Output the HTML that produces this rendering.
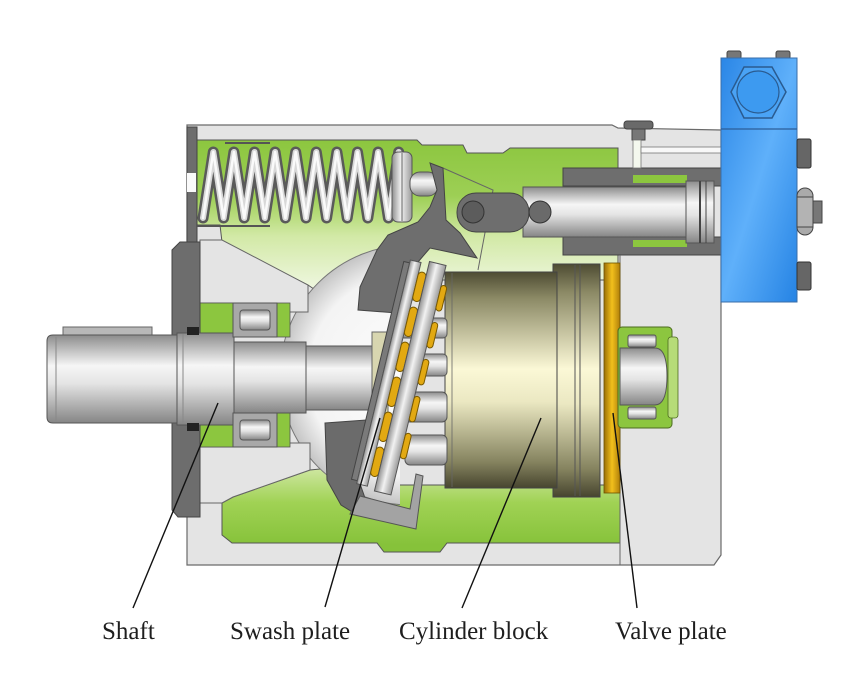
<!DOCTYPE html>
<html><head><meta charset="utf-8"><style>
html,body{margin:0;padding:0;background:#fff;}
svg{display:block;}
text{font-family:"Liberation Serif",serif;font-size:25px;fill:#1e1e1e;}
</style></head><body>
<svg width="847" height="688" viewBox="0 0 847 688" xmlns="http://www.w3.org/2000/svg">
<defs>
<linearGradient id="gUp" x1="0" y1="140" x2="0" y2="300" gradientUnits="userSpaceOnUse">
 <stop offset="0" stop-color="#8cc63f"/><stop offset="0.35" stop-color="#9dcf55"/><stop offset="0.6" stop-color="#d2e9a6"/><stop offset="1" stop-color="#f5faec"/>
</linearGradient>
<linearGradient id="gLow" x1="0" y1="468" x2="0" y2="545" gradientUnits="userSpaceOnUse">
 <stop offset="0" stop-color="#cfe7a2"/><stop offset="0.45" stop-color="#a0d254"/><stop offset="1" stop-color="#86c23a"/>
</linearGradient>
<linearGradient id="gMetal" x1="0" y1="0" x2="0" y2="1">
 <stop offset="0" stop-color="#8c8c8c"/><stop offset="0.35" stop-color="#f6f6f6"/><stop offset="0.55" stop-color="#e4e4e4"/><stop offset="1" stop-color="#858585"/>
</linearGradient>
<linearGradient id="gMetalH" x1="0" y1="0" x2="1" y2="0">
 <stop offset="0" stop-color="#909090"/><stop offset="0.45" stop-color="#f2f2f2"/><stop offset="1" stop-color="#9a9a9a"/>
</linearGradient>
<linearGradient id="gBlock" x1="0" y1="0" x2="0" y2="1">
 <stop offset="0" stop-color="#4e4c33"/><stop offset="0.12" stop-color="#8b8965"/><stop offset="0.45" stop-color="#fbf8d6"/><stop offset="0.6" stop-color="#ebe8c2"/><stop offset="0.88" stop-color="#85835f"/><stop offset="1" stop-color="#47452f"/>
</linearGradient>
<linearGradient id="gGold" x1="0" y1="0" x2="1" y2="0">
 <stop offset="0" stop-color="#9a6e08"/><stop offset="0.5" stop-color="#f2c01c"/><stop offset="1" stop-color="#b07f0a"/>
</linearGradient>
<linearGradient id="gBlue" x1="0" y1="0" x2="1" y2="1">
 <stop offset="0" stop-color="#2a86e6"/><stop offset="0.5" stop-color="#5fb0fa"/><stop offset="1" stop-color="#2583e4"/>
</linearGradient>
<radialGradient id="gDome" cx="410" cy="375" r="130" gradientUnits="userSpaceOnUse">
 <stop offset="0" stop-color="#fdfdfd"/><stop offset="0.78" stop-color="#f4f4f4"/><stop offset="0.9" stop-color="#dadada"/><stop offset="1" stop-color="#c4c4c4"/>
</radialGradient>
<clipPath id="domeClip"><rect x="280" y="235" width="120" height="270"/></clipPath>
</defs>

<!-- housing base -->
<path d="M187,125 L612,125 L618,128 L721,130 L721,555 L714,565 L187,565 Z" fill="#e4e4e4" stroke="#6a6a6a" stroke-width="1.2"/>

<!-- upper cavity -->
<path d="M197,140 L417,140 L422,145 L463,145 L467,153 L503,153 L510,148 L618,148 L618,280 L440,280 L440,300 L330,300 L308,285 L222,242 L220,225 L197,225 Z" fill="url(#gUp)" stroke="#555" stroke-width="1"/>
<!-- lower cavity -->
<path d="M222,503 L233,497 L310,470 L330,468 L330,485 L620,485 L620,543 L447,543 L440,552 L384,552 L377,543 L232,543 L222,535 Z" fill="url(#gLow)" stroke="#555" stroke-width="1"/>

<!-- dome -->
<circle cx="410" cy="375" r="130" fill="url(#gDome)" stroke="#777" stroke-width="1" clip-path="url(#domeClip)"/>

<!-- housing wedges -->
<path d="M200,240 L222,240 L308,285 L308,312 L273,312 L273,303 L200,303 Z" fill="#e4e4e4" stroke="#666" stroke-width="1"/>
<path d="M200,447 L273,447 L273,443 L310,443 L310,470 L233,497 L222,503 L200,503 Z" fill="#e4e4e4" stroke="#666" stroke-width="1"/>
<!-- green bearing areas -->
<rect x="200" y="303" width="90" height="34" fill="#8cc63f" stroke="#555" stroke-width="0.8"/>
<rect x="200" y="413" width="90" height="34" fill="#8cc63f" stroke="#555" stroke-width="0.8"/>

<!-- flange & top cover -->
<path d="M180,242 L200,242 L200,517 L178,517 L172,510 L172,250 Z" fill="#6d6d6d" stroke="#444" stroke-width="1"/>
<rect x="187" y="127" width="10" height="115" fill="#6d6d6d" stroke="#444" stroke-width="1"/>
<rect x="187" y="173" width="9" height="19" fill="#fafafa"/>

<!-- spring chamber -->
<line x1="225" y1="143" x2="270" y2="143" stroke="#555" stroke-width="2"/>
<line x1="197" y1="226" x2="270" y2="226" stroke="#555" stroke-width="2"/>
<polyline points="203,218 213.3,152 223.6,218 233.9,152 244.2,218 254.5,152 264.8,218 275.1,152 285.4,218 295.7,152 306,218 316.3,152 326.6,218 336.9,152 347.2,218 357.5,152 367.8,218 378.1,152 388.4,218 398.7,152" fill="none" stroke="#5a5a5a" stroke-width="11" stroke-linejoin="round" stroke-linecap="round"/>
<polyline points="203,218 213.3,152 223.6,218 233.9,152 244.2,218 254.5,152 264.8,218 275.1,152 285.4,218 295.7,152 306,218 316.3,152 326.6,218 336.9,152 347.2,218 357.5,152 367.8,218 378.1,152 388.4,218 398.7,152" fill="none" stroke="#d8d8d8" stroke-width="6" stroke-linejoin="round" stroke-linecap="round"/>
<polyline points="203,218 213.3,152 223.6,218 233.9,152 244.2,218 254.5,152 264.8,218 275.1,152 285.4,218 295.7,152 306,218 316.3,152 326.6,218 336.9,152 347.2,218 357.5,152 367.8,218 378.1,152 388.4,218 398.7,152" fill="none" stroke="#fafafa" stroke-width="2.5" stroke-linejoin="round" stroke-linecap="round"/>
<rect x="392" y="152" width="20" height="70" rx="6" fill="url(#gMetalH)" stroke="#555"/>
<line x1="402" y1="153" x2="402" y2="221" stroke="#666"/>
<rect x="410" y="172" width="28" height="24" rx="10" fill="url(#gMetal)" stroke="#555"/>

<!-- lever / upper cradle -->
<path d="M443,168 L493,190 L478,270" fill="none" stroke="#666" stroke-width="1"/>
<path d="M430,163 L443,168 L446,220 L460,233 L477,258 L430,248 L418,262 L405,300 L397,313 L358,310 L360,287 L377,250 L388,235 L418,222 L430,207 L437,190 Z" fill="#6e6e6e" stroke="#444" stroke-width="1"/>

<!-- control cylinder -->
<rect x="563" y="168" width="158" height="18" fill="#6e6e6e" stroke="#444"/>
<rect x="563" y="237" width="158" height="18" fill="#6e6e6e" stroke="#444"/>
<rect x="633" y="175" width="54" height="8" fill="#8cc63f"/>
<rect x="633" y="240" width="54" height="7" fill="#8cc63f"/>
<rect x="523" y="187" width="165" height="50" fill="url(#gMetal)" stroke="#555"/>
<rect x="686" y="181" width="28" height="62" fill="url(#gMetal)" stroke="#555"/>
<line x1="700" y1="181" x2="700" y2="243" stroke="#444" stroke-width="2"/>
<line x1="706" y1="181" x2="706" y2="243" stroke="#444" stroke-width="1"/>
<rect x="457" y="193" width="72" height="39" rx="19" fill="#6e6e6e" stroke="#444"/>
<circle cx="473" cy="212" r="11" fill="#5c5c5c" stroke="#333"/>
<circle cx="540" cy="212" r="11" fill="#6a6a6a" stroke="#333"/>
<!-- top bolt & passage -->
<rect x="624" y="121" width="29" height="8" rx="3" fill="#6a6a6a" stroke="#444"/>
<rect x="632" y="129" width="13" height="11" fill="#777" stroke="#444"/>
<rect x="633" y="140" width="8" height="28" fill="#f4f8ee" stroke="#777" stroke-width="0.8"/>
<rect x="641" y="147" width="80" height="6" fill="#f8f8f8" stroke="#777" stroke-width="0.8"/>

<!-- blue block -->
<rect x="727" y="51" width="14" height="8" rx="2" fill="#777" stroke="#444"/>
<rect x="776" y="51" width="14" height="8" rx="2" fill="#777" stroke="#444"/>
<rect x="721" y="58" width="76" height="244" fill="url(#gBlue)" stroke="#3a6ea8" stroke-width="1"/>
<line x1="721" y1="129" x2="797" y2="129" stroke="#2c5e99" stroke-width="1.2"/>
<polygon points="731,92 744,67 772,67 786,92 772,118 744,118" fill="#4aa3f5" stroke="#2a5b90" stroke-width="1.5"/>
<circle cx="758" cy="92" r="21" fill="#3d9af0" stroke="#2a5b90" stroke-width="1.2"/>
<rect x="797" y="139" width="14" height="29" rx="2" fill="#666" stroke="#333"/>
<rect x="797" y="262" width="14" height="28" rx="2" fill="#666" stroke="#333"/>
<circle cx="805" cy="196" r="8" fill="#aaa" stroke="#444"/>
<circle cx="805" cy="227" r="8" fill="#aaa" stroke="#444"/>
<rect x="797" y="197" width="16" height="30" fill="#b3b3b3" stroke="#444"/>
<rect x="813" y="201" width="9" height="22" fill="#777" stroke="#444"/>

<!-- right end housing divider -->
<line x1="620" y1="255" x2="620" y2="565" stroke="#666" stroke-width="1"/>

<!-- cylinder block -->
<rect x="553" y="264" width="47" height="233" fill="url(#gBlock)" stroke="#444"/>
<rect x="445" y="272" width="112" height="216" fill="url(#gBlock)" stroke="#444"/>
<line x1="575" y1="265" x2="575" y2="496" stroke="#555"/>
<line x1="580" y1="265" x2="580" y2="496" stroke="#555"/>
<line x1="452" y1="273" x2="452" y2="487" stroke="#666" stroke-width="0.8"/>
<!-- valve plate -->
<rect x="604" y="263" width="16" height="230" fill="url(#gGold)" stroke="#6b5000" stroke-width="0.8"/>
<!-- right bearing & shaft end -->
<rect x="618" y="327" width="54" height="101" rx="4" fill="#8cc63f" stroke="#4d6b20"/>
<rect x="668" y="337" width="10" height="81" rx="3" fill="#b6dc78" stroke="#4d6b20" stroke-width="0.8"/>
<path d="M620,348 L655,348 Q667,348 667,376 Q667,405 655,405 L620,405 Z" fill="url(#gMetal)" stroke="#555"/>
<rect x="628" y="335" width="28" height="12" rx="2" fill="url(#gMetal)" stroke="#555"/>
<rect x="628" y="407" width="28" height="12" rx="2" fill="url(#gMetal)" stroke="#555"/>

<!-- pistons -->
<rect x="400" y="318" width="47" height="20" rx="4" fill="url(#gMetal)" stroke="#555"/>
<rect x="403" y="354" width="44" height="22" rx="4" fill="url(#gMetal)" stroke="#555"/>
<rect x="405" y="392" width="42" height="30" rx="5" fill="url(#gMetal)" stroke="#555"/>
<rect x="405" y="435" width="42" height="30" rx="5" fill="url(#gMetal)" stroke="#555"/>

<!-- shaft -->
<rect x="63" y="327" width="89" height="9" fill="#b8b8b8" stroke="#666"/>
<path d="M53,335 L177,335 L177,423 L53,423 Q47,423 47,417 L47,341 Q47,335 53,335 Z" fill="url(#gMetal)" stroke="#555"/>
<line x1="56" y1="337" x2="56" y2="421" stroke="#888"/>
<rect x="177" y="333" width="57" height="92" fill="url(#gMetal)" stroke="#555"/>
<line x1="183" y1="334" x2="183" y2="424" stroke="#888"/>
<rect x="234" y="342" width="72" height="71" fill="url(#gMetal)" stroke="#555"/>
<rect x="306" y="346" width="80" height="64" fill="url(#gMetal)" stroke="#555"/>
<rect x="372" y="332" width="16" height="82" fill="#d8d6b0" stroke="#666"/>
<!-- seals -->
<rect x="187" y="327" width="12" height="8" fill="#222"/>
<rect x="187" y="423" width="12" height="8" fill="#222"/>
<!-- shaft bearings -->
<rect x="233" y="303" width="44" height="34" fill="#a8a8a8" stroke="#555"/>
<rect x="240" y="310" width="30" height="20" rx="3" fill="url(#gMetal)" stroke="#555"/>
<rect x="233" y="413" width="44" height="34" fill="#a8a8a8" stroke="#555"/>
<rect x="240" y="420" width="30" height="20" rx="3" fill="url(#gMetal)" stroke="#555"/>

<!-- lower cradle -->
<path d="M325,423 L366,420 L358,478 L365,498 L354,513 L341,505 L327,480 Z" fill="#6b6b6b" stroke="#444"/>
<path d="M360,496 L410,509 L416,474 L423,476 L416,529 L350,514 Z" fill="#a3a3a3" stroke="#555"/>

<!-- swash plate disc -->
<g transform="translate(401,376) rotate(13.5)">
 <rect x="-24" y="-112" width="6" height="224" fill="#7a7a7a" stroke="#444"/>
 <rect x="-18" y="-115" width="11" height="230" fill="url(#gMetalH)" stroke="#555"/>
 <rect x="-7" y="-106" width="8" height="30" rx="4" fill="#e2a912" stroke="#7a5a00"/>
 <rect x="-7" y="-70" width="8" height="30" rx="4" fill="#e2a912" stroke="#7a5a00"/>
 <rect x="-7" y="-34" width="8" height="30" rx="4" fill="#e2a912" stroke="#7a5a00"/>
 <rect x="-7" y="2" width="8" height="30" rx="4" fill="#e2a912" stroke="#7a5a00"/>
 <rect x="-7" y="38" width="8" height="30" rx="4" fill="#e2a912" stroke="#7a5a00"/>
 <rect x="-7" y="74" width="8" height="30" rx="4" fill="#e2a912" stroke="#7a5a00"/>
 <rect x="1" y="-118" width="17" height="236" fill="url(#gMetalH)" stroke="#555"/>
 <rect x="18" y="-98" width="6" height="26" rx="3" fill="#e2a912" stroke="#7a5a00"/>
 <rect x="18" y="-60" width="6" height="26" rx="3" fill="#e2a912" stroke="#7a5a00"/>
 <rect x="18" y="-22" width="6" height="26" rx="3" fill="#e2a912" stroke="#7a5a00"/>
 <rect x="18" y="16" width="6" height="26" rx="3" fill="#e2a912" stroke="#7a5a00"/>
 <rect x="18" y="54" width="6" height="26" rx="3" fill="#e2a912" stroke="#7a5a00"/>
</g>

<!-- leader lines -->
<g stroke="#111" stroke-width="1.4">
 <line x1="218" y1="403" x2="133" y2="608"/>
 <line x1="380" y1="418" x2="325" y2="607"/>
 <line x1="541" y1="418" x2="462" y2="608"/>
 <line x1="613" y1="413" x2="637" y2="608"/>
</g>

<!-- labels -->
<text x="102" y="639">Shaft</text>
<text x="230" y="639">Swash plate</text>
<text x="399" y="639">Cylinder block</text>
<text x="615" y="639">Valve plate</text>
</svg>
</body></html>
